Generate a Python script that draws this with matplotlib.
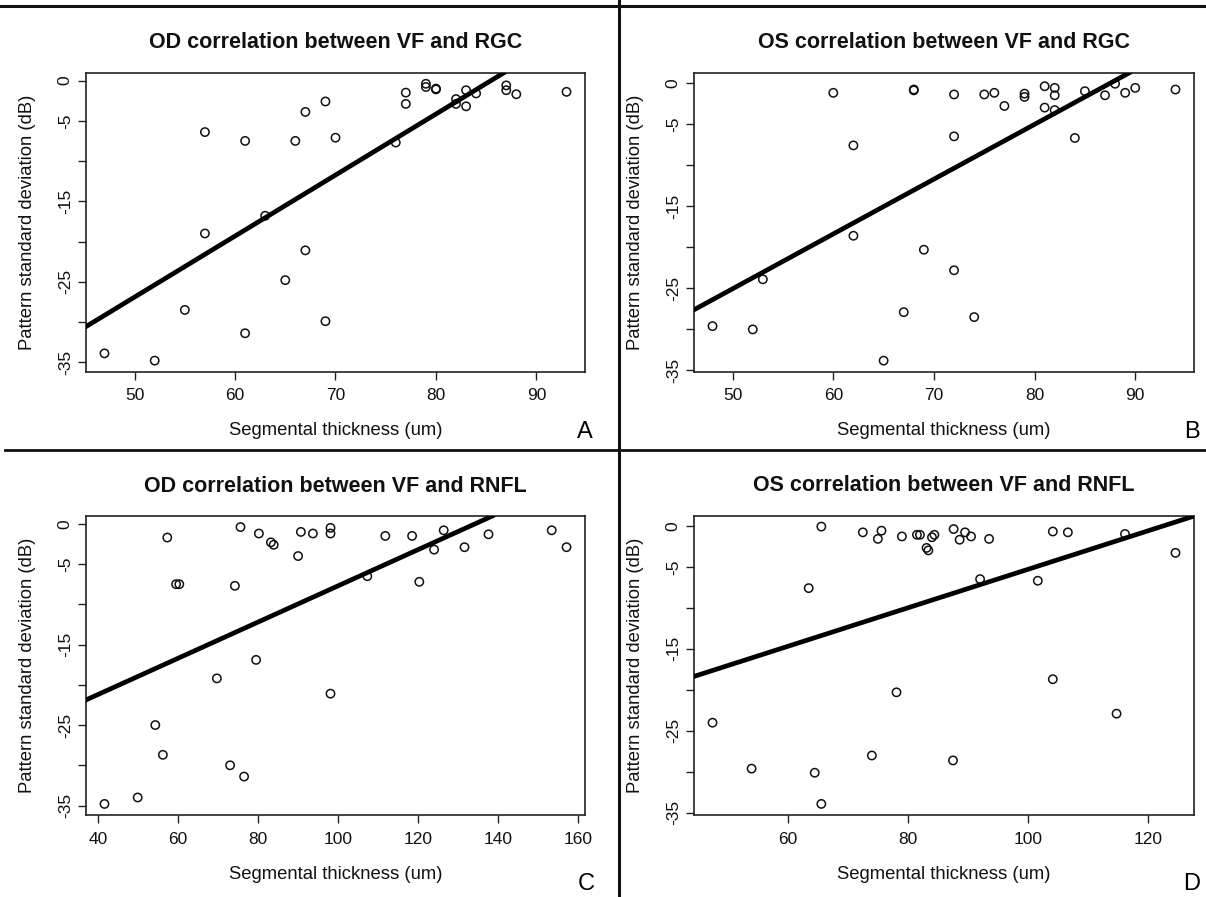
import numpy as np
import matplotlib
matplotlib.use("Agg")
import matplotlib.pyplot as plt
from matplotlib.lines import Line2D

plt.rcParams['font.family'] = ['Liberation Sans', 'DejaVu Sans']

# ---------------- data ----------------
titles = ["OD correlation between VF and RGC", "OS correlation between VF and RGC",
          "OD correlation between VF and RNFL", "OS correlation between VF and RNFL"]
panel_letters = ["A", "B", "C", "D"]
xlabel = "Segmental thickness (um)"
ylabel = "Pattern standard deviation (dB)"

od_rgc_x = [47, 52, 55, 57, 57, 61, 61, 63, 65, 66, 67, 67, 69, 69, 70, 76, 77, 77,
            79, 79, 80, 80, 82, 82, 83, 83, 84, 87, 87, 88, 93]
od_rgc_y = [-33.9, -34.8, -28.5, -6.4, -19.0, -7.5, -31.4, -16.8, -24.8, -7.5, -3.9, -21.1,
            -2.6, -29.9, -7.1, -7.7, -1.5, -2.9, -0.4, -0.8, -1.0, -1.1, -2.3, -2.9, -1.2,
            -3.2, -1.6, -0.6, -1.2, -1.7, -1.4]

os_rgc_x = [48, 52, 53, 60, 62, 62, 65, 67, 68, 68, 69, 72, 72, 72, 74, 75, 76, 77, 79, 79,
            81, 81, 82, 82, 82, 84, 85, 87, 88, 89, 90, 94]
os_rgc_y = [-29.6, -30.0, -23.9, -1.2, -7.6, -18.6, -33.8, -27.9, -0.8, -0.9, -20.3, -1.4,
            -6.5, -22.8, -28.5, -1.4, -1.2, -2.8, -1.3, -1.7, -0.4, -3.0, -0.6, -1.5, -3.3,
            -6.7, -1.0, -1.5, -0.1, -1.2, -0.6, -0.8]

od_rnfl_x = [41.6, 49.9, 54.3, 56.2, 57.3, 59.5, 60.3, 69.7, 73.0, 74.2, 75.6, 76.5, 79.5,
             80.2, 83.2, 83.9, 90.0, 90.7, 93.7, 98.1, 98.1, 98.1, 107.3, 111.8, 118.5,
             120.3, 124.0, 126.4, 131.6, 137.6, 153.4, 157.1]
od_rnfl_y = [-34.8, -34.0, -25.0, -28.7, -1.7, -7.5, -7.5, -19.2, -30.0, -7.7, -0.4, -31.4,
             -16.9, -1.2, -2.3, -2.6, -4.0, -1.0, -1.2, -0.5, -1.2, -21.1, -6.5, -1.5, -1.5,
             -7.2, -3.2, -0.8, -2.9, -1.3, -0.8, -2.9]

os_rnfl_x = [47.5, 54.0, 63.5, 64.5, 65.6, 65.6, 72.5, 74.0, 75.0, 75.6, 78.1, 79.0, 81.5,
             82.0, 83.1, 83.4, 84.0, 84.4, 87.5, 87.6, 88.6, 89.5, 90.5, 92.0, 93.5, 101.6,
             104.1, 104.1, 106.6, 114.7, 116.1, 124.5]
os_rnfl_y = [-24.0, -29.6, -7.6, -30.1, -0.1, -33.9, -0.8, -28.0, -1.6, -0.6, -20.3, -1.3,
             -1.1, -1.1, -2.7, -3.0, -1.4, -1.1, -28.6, -0.4, -1.7, -0.8, -1.3, -6.5, -1.6,
             -6.7, -0.7, -18.7, -0.8, -22.9, -1.0, -3.3]

fit_intercepts = [-64.8, -58.4, -30.2, -28.8]
fit_slopes = [0.758, 0.667, 0.225, 0.235]

x_ticks = [[50, 60, 70, 80, 90], [50, 60, 70, 80, 90],
           [40, 60, 80, 100, 120, 140, 160], [60, 80, 100, 120]]
y_ticks = [0, -5, -10, -15, -20, -25, -30, -35]
y_ticklabels = ["0", "-5", "", "-15", "", "-25", "", "-35"]

xs = [od_rgc_x, os_rgc_x, od_rnfl_x, os_rnfl_x]
ys = [od_rgc_y, os_rgc_y, od_rnfl_y, os_rnfl_y]

# ---------------- layout (pixels) ----------------
W, H = 1206, 897
fig = plt.figure(figsize=(W / 100, H / 100), dpi=100)
fig.patch.set_facecolor("white")

def fx(x):
    return x / W

def fy(y):
    return 1 - y / H

# left, right, top, bottom in pixels
boxes = [(86, 585, 72.7, 371.7), (694, 1194, 72.7, 371.7),
         (86, 585, 516, 815), (694, 1194, 515.5, 815)]
letter_pos = [(585, 432), (1192, 432), (586, 884), (1192, 884)]

for i in range(4):
    l, r, t, b = boxes[i]
    ax = fig.add_axes([fx(l), fy(b), (r - l) / W, (b - t) / H])
    x = np.asarray(xs[i], float)
    y = np.asarray(ys[i], float)
    ax.scatter(x, y, s=36, facecolors="none", edgecolors="#111111", linewidths=1.1, zorder=3)
    ax.axline((0, fit_intercepts[i]), slope=fit_slopes[i], color="black", lw=3.4, zorder=4)
    xr = x.max() - x.min()
    yr = y.max() - y.min()
    ax.set_xlim(x.min() - 0.04 * xr, x.max() + 0.04 * xr)
    ax.set_ylim(y.min() - 0.04 * yr, y.max() + 0.04 * yr)
    ax.set_xticks(x_ticks[i])
    ax.set_xticklabels([str(v) for v in x_ticks[i]])
    ax.set_yticks(y_ticks)
    ax.set_yticklabels(y_ticklabels, rotation=90, va="center")
    ax.tick_params(axis="both", length=6, width=1.0, color="#222222",
                   labelsize=12.5, labelcolor="#111111")
    ax.tick_params(axis="x", pad=6)
    ax.tick_params(axis="y", pad=3.5)
    for sp in ax.spines.values():
        sp.set_linewidth(1.2)
        sp.set_color("#222222")
    cx = (l + r) / 2
    cy = (t + b) / 2
    fig.text(fx(cx), fy(t - 30), titles[i], ha="center", va="center",
             fontsize=15.5, fontweight="bold", color="#111111")
    fig.text(fx(cx), fy(b + 59), xlabel, ha="center", va="center", fontsize=13.3, color="#111111")
    fig.text(fx(l - 58), fy(cy), ylabel, ha="center", va="center", rotation=90,
             fontsize=13.3, color="#111111")
    lx, ly = letter_pos[i]
    fig.text(fx(lx), fy(ly), panel_letters[i], ha="center", va="center", fontsize=17, color="black")

# divider lines
fig.add_artist(Line2D([0, 1], [fy(6), fy(6)], color="#111111", lw=2.2))
fig.add_artist(Line2D([fx(5), 1], [fy(450), fy(450)], color="#111111", lw=2.0))
fig.add_artist(Line2D([fx(619), fx(619)], [0, 1], color="#111111", lw=2.2))

fig.savefig("out.png", dpi=100, facecolor="white")
